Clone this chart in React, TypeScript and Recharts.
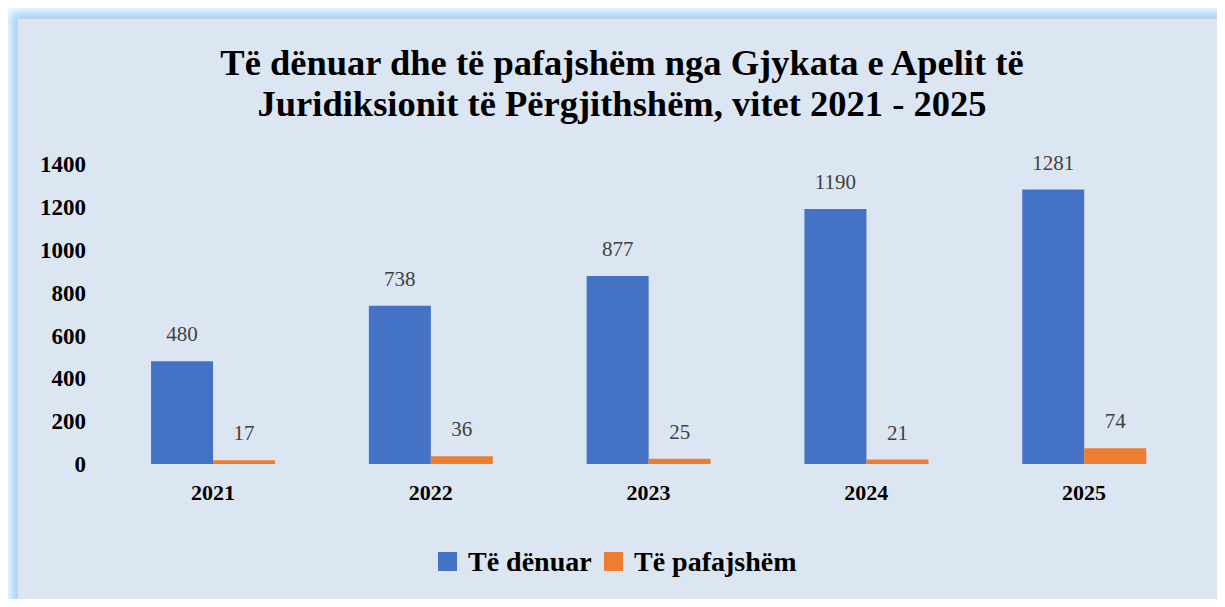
import { BarChart, Bar, XAxis, YAxis, LabelList } from 'recharts';

const years = ['2021', '2022', '2023', '2024', '2025'];
const denuar = [480, 738, 877, 1190, 1281];
const pafajshem = [17, 36, 25, 21, 74];
const yTicks = [0, 200, 400, 600, 800, 1000, 1200, 1400];

const seriesNames = ['Të dënuar', 'Të pafajshëm'];
const colors = ['#4472C4', '#ED7D31'];

const chartData = years.map((year, i) => ({
  year,
  denuar: denuar[i],
  pafajshem: pafajshem[i],
}));

const serif = '"Liberation Serif", "DejaVu Serif", serif';

// legend drawn as its own little svg so it uses the same text rendering as the axes
function ChartLegend() {
  const items = [
    { x: 438, textX: 468 },
    { x: 604, textX: 634 },
  ];
  return (
    <svg width={1225} height={60} style={{ position: 'absolute', left: 0, top: 532 }}>
      {seriesNames.map((name, i) => (
        <g key={name}>
          <rect x={items[i].x} y={20} width={19} height={19} fill={colors[i]} />
          <text x={items[i].textX} y={39} fontFamily={serif} fontWeight="bold" fontSize={28} fill="#000">
            {name}
          </text>
        </g>
      ))}
    </svg>
  );
}

export default function App() {
  return (
    <div style={{ position: 'relative', width: 1225, height: 607, margin: -8, background: '#fff', overflow: 'hidden' }}>
      <div
        style={{
          position: 'absolute',
          left: 17,
          top: 18,
          width: 1205,
          height: 586,
          background: '#dce6f2',
          boxShadow: '0 0 10px 7px #a9d3fa',
          border: '1px solid #c9d3de',
          boxSizing: 'border-box',
        }}
      />
      <div
        style={{
          position: 'absolute',
          left: 0,
          top: 42,
          width: 1244,
          textAlign: 'center',
          fontFamily: serif,
          fontWeight: 'bold',
          fontSize: 36.5,
          lineHeight: '41px',
          color: '#000',
        }}
      >
        Të dënuar dhe të pafajshëm nga Gjykata e Apelit të
        <br />
        Juridiksionit të Përgjithshëm, vitet 2021 - 2025
      </div>
      <div style={{ position: 'absolute', left: 0, top: 0 }}>
        <BarChart
          width={1225}
          height={607}
          data={chartData}
          margin={{ top: 164, right: 32, bottom: 103, left: 18 }}
          barGap={0}
          barCategoryGap="21.6%"
        >
          <XAxis
            dataKey="year"
            axisLine={false}
            tickLine={false}
            height={40}
            tickMargin={14}
            tick={{ fontFamily: serif, fontWeight: 'bold', fontSize: 22, fill: '#000' }}
          />
          <YAxis
            domain={[0, 1400]}
            ticks={yTicks}
            axisLine={false}
            tickLine={false}
            width={86}
            tickMargin={12}
            tick={{ fontFamily: serif, fontWeight: 'bold', fontSize: 23, fill: '#000' }}
          />
          <Bar dataKey="denuar" name={seriesNames[0]} fill={colors[0]} isAnimationActive={false}>
            <LabelList dataKey="denuar" position="top" offset={20} style={{ fontFamily: serif, fontSize: 21, fill: '#404040' }} />
          </Bar>
          <Bar dataKey="pafajshem" name={seriesNames[1]} fill={colors[1]} isAnimationActive={false}>
            <LabelList dataKey="pafajshem" position="top" offset={20} style={{ fontFamily: serif, fontSize: 21, fill: '#404040' }} />
          </Bar>
        </BarChart>
      </div>
      <ChartLegend />
    </div>
  );
}
